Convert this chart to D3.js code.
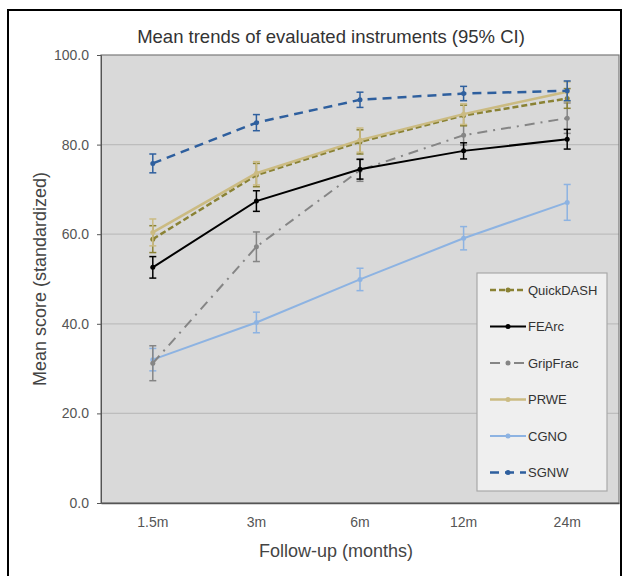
<!DOCTYPE html>
<html><head><meta charset="utf-8">
<script src="https://cdn.jsdelivr.net/npm/d3@7"></script>
<style>body{margin:0;background:#fff;} text{font-family:"Liberation Sans",Arial,sans-serif;}</style>
</head><body>
<svg id="chart" width="629" height="576"></svg>
<script>
const categories = ["1.5m","3m","6m","12m","24m"];
const yTicks = [0,20,40,60,80,100];
const seriesNames = ["QuickDASH","FEArc","GripFrac","PRWE","CGNO","SGNW"];
const quickdash = [58.9,73.2,80.6,86.5,90.3];
const quickdashCI = [3.0,2.6,2.7,2.3,2.2];
const fearc = [52.6,67.4,74.5,78.6,81.2];
const fearcCI = [2.4,2.3,2.2,1.8,2.2];
const gripfrac = [31.2,57.2,74.3,82.1,85.9];
const gripfracCI = [3.9,3.3,2.5,2.2,3.4];
const prwe = [60.4,73.6,81.0,86.8,91.8];
const prweCI = [3.0,2.6,2.7,2.3,2.2];
const cgno = [32.0,40.3,49.9,59.1,67.1];
const cgnoCI = [2.5,2.3,2.5,2.6,4.0];
const sgnw = [75.8,84.9,90.0,91.4,92.0];
const sgnwCI = [2.1,1.8,1.7,1.6,2.2];

const series = [
  {name:"QuickDASH", v:quickdash, ci:quickdashCI, color:"#8a8234", w:2.5, dash:"6,3"},
  {name:"FEArc", v:fearc, ci:fearcCI, color:"#000000", w:2, dash:null},
  {name:"GripFrac", v:gripfrac, ci:gripfracCI, color:"#858585", w:2, dash:"10,6,2,6"},
  {name:"PRWE", v:prwe, ci:prweCI, color:"#cbbb82", w:2.5, dash:null},
  {name:"CGNO", v:cgno, ci:cgnoCI, color:"#8db3e2", w:2, dash:null},
  {name:"SGNW", v:sgnw, ci:sgnwCI, color:"#2e5f9e", w:2.5, dash:"9,6"}
];
const drawOrder = ["CGNO","GripFrac","FEArc","QuickDASH","PRWE","SGNW"];

const svg = d3.select("#chart");
const L=101, R=619, T=55, B=503;

svg.append("rect").attr("x",8).attr("y",10).attr("width",613).attr("height",580)
  .attr("fill","#fff").attr("stroke","#000").attr("stroke-width",2);

const x = d3.scaleBand().domain(categories).range([L,R]);
const y = d3.scaleLinear().domain([0,100]).range([B,T]);

svg.append("rect").attr("x",L).attr("y",T).attr("width",R-L).attr("height",B-T)
  .attr("fill","#d9d9d9");

svg.append("g").selectAll("line").data(yTicks.filter(d=>d>0&&d<100)).join("line")
  .attr("x1",L).attr("x2",R).attr("y1",d=>y(d)).attr("y2",d=>y(d))
  .attr("stroke","#bdbdbd").attr("stroke-width",1.2);

svg.append("rect").attr("x",L).attr("y",T).attr("width",R-L).attr("height",B-T)
  .attr("fill","none").attr("stroke","#7a7a7a").attr("stroke-width",1.2);

const yAxis = svg.append("g").attr("transform",`translate(${L},0)`)
  .call(d3.axisLeft(y).tickValues(yTicks).tickFormat(d3.format(".1f")).tickSize(4).tickPadding(8));
yAxis.select(".domain").attr("stroke","#555");
yAxis.selectAll(".tick line").attr("stroke","#555");
yAxis.selectAll("text").attr("font-size",14).attr("fill","#555").attr("font-family","Liberation Sans, Arial, sans-serif");

const xAxis = svg.append("g").attr("transform",`translate(0,${B})`)
  .call(d3.axisBottom(x).tickSize(0).tickPadding(14));
xAxis.select(".domain").attr("stroke","#555").attr("stroke-width",1.5);
xAxis.selectAll("text").attr("font-size",14).attr("fill","#555").attr("font-family","Liberation Sans, Arial, sans-serif");

svg.append("text").attr("x",331).attr("y",43).attr("text-anchor","middle")
  .attr("font-size",18.5).attr("fill","#333").text("Mean trends of evaluated instruments (95% CI)");
svg.append("text").attr("x",336).attr("y",557).attr("text-anchor","middle")
  .attr("font-size",18).attr("fill","#444").text("Follow-up (months)");
svg.append("text").attr("transform","translate(46,279) rotate(-90)").attr("text-anchor","middle")
  .attr("font-size",18).attr("fill","#444").text("Mean score (standardized)");

const cx = c => x(c)+x.bandwidth()/2;
const line = d3.line().x((d,i)=>cx(categories[i])).y(d=>y(d));

drawOrder.forEach(n=>{
  const s = series.find(d=>d.name===n);
  const g = svg.append("g");
  s.v.forEach((v,i)=>{
    const xc = cx(categories[i]);
    const eb = g.append("g").attr("stroke",s.color).attr("stroke-width",1.5);
    eb.append("line").attr("x1",xc).attr("x2",xc).attr("y1",y(v-s.ci[i])).attr("y2",y(v+s.ci[i]));
    eb.append("line").attr("x1",xc-3.5).attr("x2",xc+3.5).attr("y1",y(v-s.ci[i])).attr("y2",y(v-s.ci[i]));
    eb.append("line").attr("x1",xc-3.5).attr("x2",xc+3.5).attr("y1",y(v+s.ci[i])).attr("y2",y(v+s.ci[i]));
  });
  g.append("path").attr("d",line(s.v)).attr("fill","none").attr("stroke",s.color)
    .attr("stroke-width",s.w).attr("stroke-dasharray",s.dash);
  g.selectAll("circle").data(s.v).join("circle")
    .attr("cx",(d,i)=>cx(categories[i])).attr("cy",d=>y(d)).attr("r",2.5).attr("fill",s.color);
});

const lg = svg.append("g");
lg.append("rect").attr("x",477).attr("y",273).attr("width",130).attr("height",218)
  .attr("fill","#efefef").attr("stroke","#a8a8a8").attr("stroke-width",1.2);
series.forEach((s,i)=>{
  const yy = 290 + i*36.5;
  lg.append("line").attr("x1",490).attr("x2",526).attr("y1",yy).attr("y2",yy)
    .attr("stroke",s.color).attr("stroke-width",s.w).attr("stroke-dasharray",s.dash);
  lg.append("circle").attr("cx",508).attr("cy",yy).attr("r",2.5).attr("fill",s.color);
  lg.append("text").attr("x",528).attr("y",yy+4.5).attr("font-size",13).attr("fill","#333").text(s.name);
});
</script>
</body></html>
